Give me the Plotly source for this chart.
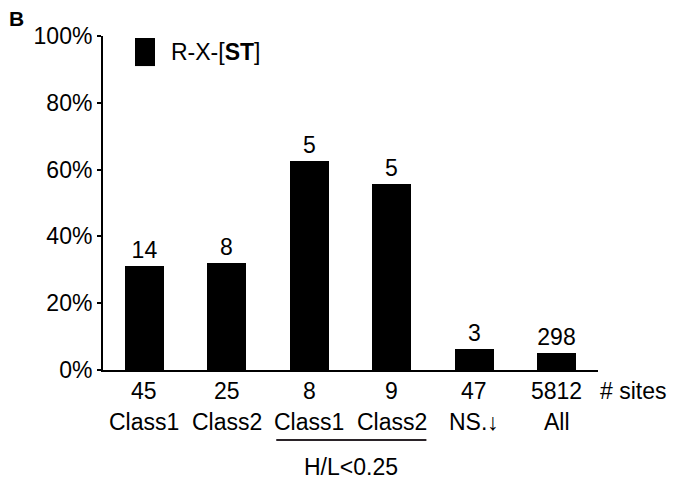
import plotly.graph_objects as go

# Share of sites carrying the R-X-[ST] motif, per group
groups = ["Class1", "Class2", "Class1", "Class2", "NS.\u2193", "All"]
n_sites = [45, 25, 8, 9, 47, 5812]
n_motif = [14, 8, 5, 5, 3, 298]
pct_motif = [31.1, 32.0, 62.5, 55.6, 6.4, 5.1]
y_ticks = [0, 20, 40, 60, 80, 100]
y_ticklabels = ["0%", "20%", "40%", "60%", "80%", "100%"]

FONT = "Liberation Sans, Arial, Helvetica, sans-serif"
FS = 23
xpos = list(range(len(groups)))

fig = go.Figure(
    go.Bar(
        x=xpos,
        y=pct_motif,
        width=0.47,
        marker=dict(color="black", line=dict(width=0)),
        text=[str(v) for v in n_motif],
        textposition="outside",
        textfont=dict(family=FONT, size=FS, color="black"),
        cliponaxis=False,
        showlegend=False,
    )
)

ann = []
# site counts and group names under the axis
for x, n, g in zip(xpos, n_sites, groups):
    ann.append(dict(x=x, y=0, xref="x", yref="paper", text=str(n), showarrow=False,
                    yanchor="middle", yshift=-21, font=dict(family=FONT, size=FS, color="black")))
    ann.append(dict(x=x, y=0, xref="x", yref="paper", text=g, showarrow=False,
                    yanchor="middle", yshift=-52, font=dict(family=FONT, size=FS, color="black")))
ann.append(dict(x=1, y=0, xref="paper", yref="paper", text="# sites", showarrow=False,
                xanchor="left", yanchor="middle", xshift=0, yshift=-21,
                font=dict(family=FONT, size=FS, color="black")))
ann.append(dict(x=2.5, y=0, xref="x", yref="paper", text="H/L<0.25", showarrow=False,
                yanchor="middle", yshift=-97, font=dict(family=FONT, size=FS, color="black")))
# legend entry
ann.append(dict(x=0.1333, y=0.952, xref="paper", yref="paper", text="R-X-[<b>ST</b>]",
                showarrow=False, xanchor="left", yanchor="middle",
                font=dict(family=FONT, size=FS, color="black")))
# panel letter
ann.append(dict(x=-0.174, y=1.052, xref="paper", yref="paper", text="<b>B</b>",
                showarrow=False, xanchor="center", yanchor="middle",
                font=dict(family=FONT, size=21, color="black")))

shapes = [
    # bracket under the H/L<0.25 pair
    dict(type="line", xref="x", yref="paper", x0=1.6, x1=3.42, y0=-0.2096, y1=-0.2096,
         line=dict(color="#2a2328", width=2)),
    # legend swatch
    dict(type="rect", xref="paper", yref="paper", x0=0.0646, x1=0.105, y0=0.910, y1=0.994,
         fillcolor="black", line=dict(width=0)),
]

fig.update_layout(
    width=673,
    height=481,
    margin=dict(l=103, r=75, t=36, b=111),
    paper_bgcolor="white",
    plot_bgcolor="white",
    font=dict(family=FONT, size=FS, color="black"),
    annotations=ann,
    shapes=shapes,
    bargap=0,
)
fig.update_xaxes(
    range=[-0.5, 5.5],
    showticklabels=False,
    ticks="",
    showgrid=False,
    zeroline=False,
    showline=True,
    linecolor="black",
    linewidth=2,
)
fig.update_yaxes(
    range=[0, 100],
    tickvals=y_ticks,
    ticktext=y_ticklabels,
    ticks="outside",
    ticklen=4,
    tickwidth=1.5,
    tickcolor="black",
    showgrid=False,
    zeroline=False,
    showline=True,
    linecolor="black",
    linewidth=2,
    tickfont=dict(family=FONT, size=FS, color="black"),
)

fig.write_html("out.html")
